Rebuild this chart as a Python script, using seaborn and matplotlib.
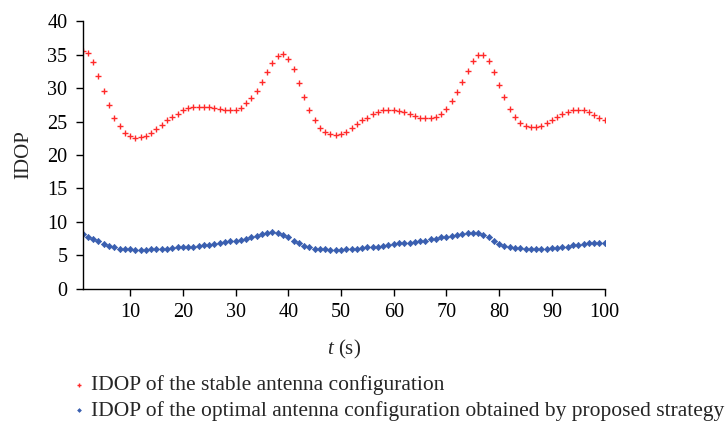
import numpy as np
import pandas as pd
import matplotlib
matplotlib.use("Agg")
import matplotlib.pyplot as plt
import seaborn as sns

t = list(range(1, 101))
stable = [35.6, 35.2, 33.9, 31.8, 29.6, 27.5, 25.6, 24.3, 23.3, 22.8,
          22.5, 22.7, 22.8, 23.3, 23.9, 24.5, 25.2, 25.7, 26.2, 26.7,
          27.0, 27.2, 27.2, 27.2, 27.2, 27.0, 26.9, 26.8, 26.8, 26.8,
          27.1, 27.7, 28.5, 29.6, 30.9, 32.4, 33.8, 34.8, 35.1, 34.4,
          32.8, 30.8, 28.6, 26.7, 25.3, 24.1, 23.4, 23.1, 23.0, 23.1,
          23.5, 24.1, 24.6, 25.2, 25.6, 26.1, 26.5, 26.8, 26.8, 26.8,
          26.6, 26.4, 26.1, 25.8, 25.6, 25.5, 25.5, 25.7, 26.2, 26.9,
          28.1, 29.4, 30.9, 32.6, 34.0, 35.0, 35.0, 34.0, 32.4, 30.4,
          28.6, 26.9, 25.7, 24.8, 24.3, 24.2, 24.2, 24.4, 24.8, 25.2,
          25.7, 26.2, 26.5, 26.8, 26.8, 26.7, 26.4, 26.0, 25.6, 25.2]
optimal = [8.2, 7.8, 7.5, 7.1, 6.7, 6.4, 6.2, 6.0, 5.9, 5.9,
           5.8, 5.8, 5.8, 5.9, 5.9, 6.0, 6.0, 6.1, 6.2, 6.2,
           6.3, 6.3, 6.4, 6.5, 6.6, 6.7, 6.9, 7.0, 7.1, 7.2,
           7.3, 7.5, 7.7, 7.9, 8.2, 8.4, 8.5, 8.4, 8.1, 7.7,
           7.2, 6.8, 6.4, 6.2, 6.0, 5.9, 5.9, 5.8, 5.8, 5.8,
           5.9, 5.9, 6.0, 6.1, 6.2, 6.3, 6.3, 6.4, 6.6, 6.7,
           6.8, 6.8, 6.9, 7.0, 7.1, 7.2, 7.4, 7.5, 7.7, 7.8,
           7.9, 8.1, 8.2, 8.4, 8.4, 8.3, 8.1, 7.7, 7.2, 6.7,
           6.4, 6.2, 6.1, 6.1, 6.0, 5.9, 6.0, 6.0, 6.0, 6.1,
           6.1, 6.2, 6.3, 6.5, 6.6, 6.7, 6.8, 6.8, 6.8, 6.9]
labels = ["IDOP of the stable antenna configuration",
          "IDOP of the optimal antenna configuration obtained by proposed strategy"]
xticks = [10, 20, 30, 40, 50, 60, 70, 80, 90, 100]
yticks = [0, 5, 10, 15, 20, 25, 30, 35, 40]

sns.set_style("ticks")
plt.rcParams['font.family'] = ['Liberation Serif', 'DejaVu Serif']
plt.rcParams['mathtext.fontset'] = 'custom'
plt.rcParams['mathtext.it'] = 'Liberation Serif:italic'
plt.rcParams['mathtext.rm'] = 'Liberation Serif'

df = pd.DataFrame({"t": t, "stable": stable, "optimal": optimal})

fig = plt.figure(figsize=(7.28, 4.23), dpi=100)
ax = fig.add_axes([0.1135, 0.317, 0.717, 0.633])

sns.scatterplot(data=df, x="t", y="stable", ax=ax, marker="+", s=24,
                color="#ff2a2a", linewidth=1.0, label=labels[0])
sns.scatterplot(data=df, x="t", y="optimal", ax=ax, marker="D", s=10,
                color="#3a5fb0", edgecolor="#3a5fb0", linewidth=0.5, label=labels[1])

ax.set_xlim(1, 100)
ax.set_ylim(0, 40)
ax.set_xticks(xticks)
ax.set_yticks(yticks)
ax.tick_params(labelsize=14.5, length=5, width=1, colors="black")
ax.tick_params(axis="y", pad=6)
ax.tick_params(axis="x", pad=5)
for s in ["top", "right"]:
    ax.spines[s].set_visible(False)
for s in ["left", "bottom"]:
    ax.spines[s].set_linewidth(1)
    ax.spines[s].set_color("black")

ax.set_ylabel("IDOP", fontsize=15, labelpad=10)
ax.set_xlabel(r"$t$ (s)", fontsize=15, labelpad=12)

leg = ax.legend(loc="upper left", bbox_to_anchor=(0.095, 0.113), bbox_transform=fig.transFigure,
                frameon=False, fontsize=15.5, handletextpad=0.1, labelspacing=0.25,
                handlelength=0.9, borderaxespad=0, borderpad=0, markerscale=0.6)

fig.savefig("out.png", dpi=100)
